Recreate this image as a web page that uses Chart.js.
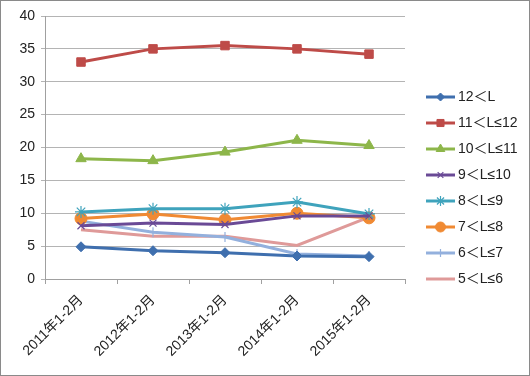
<!doctype html>
<html>
<head>
	<meta charset="utf-8">
	<script src="https://cdn.jsdelivr.net/npm/chart.js@4/dist/chart.umd.min.js"></script>
	<style>
		body { margin: 0; background: #fff; }
		#holder { width: 530px; height: 376px; position: relative; }
	</style>
</head>
<body>
	<div id="holder"><canvas id="chart" width="530" height="376"></canvas></div>
	<script>
		var categories = ['2011年1-2月', '2012年1-2月', '2013年1-2月', '2014年1-2月', '2015年1-2月'];
		var seriesNames = ['12＜L', '11＜L≤12', '10＜L≤11', '9＜L≤10', '8＜L≤9', '7＜L≤8', '6＜L≤7', '5＜L≤6'];
		var s12 = [4.9, 4.3, 4.0, 3.5, 3.4];
		var s11 = [33.0, 35.0, 35.5, 35.0, 34.2];
		var s10 = [18.3, 18.0, 19.3, 21.1, 20.3];
		var s9 = [8.1, 8.5, 8.3, 9.6, 9.6];
		var s8 = [10.2, 10.7, 10.7, 11.7, 9.9];
		var s7 = [9.2, 9.9, 9.0, 10.0, 9.3];
		var s6 = [8.8, 7.1, 6.4, 3.8, 3.5];
		var s5 = [7.5, 6.5, 6.5, 5.1, 9.4];

		var colors = ['#3f6fae', '#be4b48', '#8db64a', '#6a4a96', '#3fa3bc', '#f08a33', '#93b0dd', '#df9a99'];
		var markers = ['rectRot', 'rect', 'triangle', 'crossRot', 'star', 'circle', 'cross', false];
		var markerSize = [5, 6, 6, 5, 6, 6, 5, 0];
		var values = [s12, s11, s10, s9, s8, s7, s6, s5];
		var FONT = '"Liberation Sans", "Noto Sans CJK SC", sans-serif';

		// draw order: keep the first series on top like the reference
		var datasets = seriesNames.map(function(name, i) {
			return {
				label: name,
				data: values[i],
				borderColor: colors[i],
				backgroundColor: colors[i],
				pointBackgroundColor: colors[i],
				pointBorderColor: colors[i],
				pointStyle: markers[i],
				pointRadius: markerSize[i],
				pointBorderWidth: markers[i] === 'crossRot' || markers[i] === 'cross' || markers[i] === 'star' ? 1.2 : 1,
				borderWidth: 3,
				tension: 0,
				fill: false,
				order: i
			};
		});

		var sideLegend = {
			id: 'sideLegend',
			afterDraw: function(chart) {
				var ctx = chart.ctx;
				ctx.save();
				ctx.font = '14px ' + FONT;
				ctx.textBaseline = 'middle';
				ctx.fillStyle = '#222';
				chart.data.datasets.forEach(function(ds, i) {
					var y = 97 + i * 26;
					ctx.strokeStyle = ds.borderColor;
					ctx.lineWidth = 3;
					ctx.beginPath();
					ctx.moveTo(426, y);
					ctx.lineTo(455, y);
					ctx.stroke();
					if (ds.pointStyle) {
						ctx.fillStyle = ds.borderColor;
						ctx.strokeStyle = ds.borderColor;
						ctx.lineWidth = ds.pointBorderWidth;
						Chart.helpers.drawPoint(ctx, {pointStyle: ds.pointStyle, radius: ds.pointRadius - 1, rotation: 0, borderWidth: ds.pointBorderWidth}, 440.5, y);
					}
					ctx.fillStyle = '#222';
					ctx.fillText(ds.label, 458, y);
				});
				// outer frame
				ctx.strokeStyle = '#8a8a8a';
				ctx.lineWidth = 1;
				ctx.strokeRect(0.5, 0.5, 529, 375);
				ctx.restore();
			}
		};

		new Chart(document.getElementById('chart'), {
			type: 'line',
			data: { labels: categories, datasets: datasets },
			plugins: [sideLegend],
			options: {
				responsive: false,
				animation: false,
				layout: { padding: { top: 16, right: 125, left: 0, bottom: 0 } },
				plugins: {
					legend: { display: false },
					tooltip: { enabled: false }
				},
				scales: {
					x: {
						offset: true,
						grid: { offset: true, drawOnChartArea: false, color: '#a0a0a0', tickLength: 5 },
						border: { color: '#a0a0a0' },
						ticks: {
							minRotation: 45, maxRotation: 45,
							padding: 8,
							color: '#222',
							font: { family: FONT, size: 14 }
						},
						afterFit: function(scale) { scale.height = 97; }
					},
					y: {
						min: 0, max: 40,
						ticks: { stepSize: 5, color: '#222', padding: 6, font: { family: FONT, size: 14 } },
						grid: { color: '#b4b4b4', tickLength: 4 },
						border: { color: '#a0a0a0' },
						afterFit: function(scale) { scale.width = 45; }
					}
				}
			}
		});
	</script>
</body>
</html>
